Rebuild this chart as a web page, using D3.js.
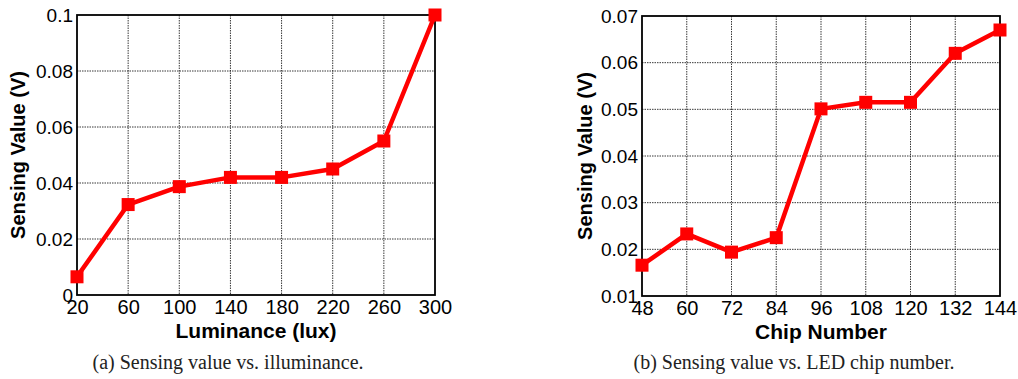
<!DOCTYPE html>
<html>
<head>
<meta charset="utf-8">
<script src="https://cdn.jsdelivr.net/npm/d3@7"></script>
<style>
  body { margin: 0; background: #fff; }
  svg { display: block; }
</style>
</head>
<body>
<svg id="chart" width="1018" height="379"></svg>
<script>
// panel (a)
var luxValues = [20, 60, 100, 140, 180, 220, 260, 300];
var luxSensing = [0.0065, 0.0323, 0.0387, 0.0420, 0.0420, 0.0450, 0.0550, 0.1000];
var luxYTicks = [0, 0.02, 0.04, 0.06, 0.08, 0.1];

// panel (b)
var chipValues = [48, 60, 72, 84, 96, 108, 120, 132, 144];
var chipSensing = [0.0166, 0.0233, 0.0194, 0.0225, 0.0501, 0.0515, 0.0515, 0.0620, 0.0670];
var chipYTicks = [0.01, 0.02, 0.03, 0.04, 0.05, 0.06, 0.07];

var svg = d3.select("#chart");

function panel(cfg) {
  var x = d3.scaleLinear().domain(cfg.xDomain).range([cfg.left, cfg.right]);
  var y = d3.scaleLinear().domain(cfg.yDomain).range([cfg.bottom, cfg.top]);
  var g = svg.append("g");

  // grid
  g.append("g").selectAll("line.vx")
    .data(cfg.xTicks.slice(1, -1))
    .enter().append("line")
      .attr("x1", d => x(d)).attr("x2", d => x(d))
      .attr("y1", cfg.top).attr("y2", cfg.bottom)
      .attr("stroke", "#222").attr("stroke-width", 0.9)
      .attr("stroke-dasharray", "1.5,1");
  g.append("g").selectAll("line.hy")
    .data(cfg.yTicks.slice(1, -1))
    .enter().append("line")
      .attr("x1", cfg.left).attr("x2", cfg.right)
      .attr("y1", d => y(d)).attr("y2", d => y(d))
      .attr("stroke", "#222").attr("stroke-width", 0.9)
      .attr("stroke-dasharray", "1.5,1");

  // axes
  var xa = g.append("g")
    .attr("transform", "translate(0," + cfg.bottom + ")")
    .call(d3.axisBottom(x).tickValues(cfg.xTicks).tickSize(0).tickPadding(5).tickFormat(d3.format("d")));
  xa.select(".domain").remove();
  xa.selectAll("text").attr("font-family", "Liberation Sans, Arial, sans-serif")
    .attr("font-size", 20).attr("fill", "#000");

  var ya = g.append("g")
    .attr("transform", "translate(" + cfg.left + ",0)")
    .call(d3.axisLeft(y).tickValues(cfg.yTicks).tickSize(0).tickPadding(4).tickFormat(d => String(+d.toFixed(2))));
  ya.select(".domain").remove();
  ya.selectAll("text").attr("font-family", "Liberation Sans, Arial, sans-serif")
    .attr("font-size", 19).attr("fill", "#000");

  // box
  g.append("rect")
    .attr("x", cfg.left).attr("y", cfg.top)
    .attr("width", cfg.right - cfg.left).attr("height", cfg.bottom - cfg.top)
    .attr("fill", "none").attr("stroke", "#000").attr("stroke-width", 1.8);

  // line
  var pts = cfg.xs.map((d, i) => [d, cfg.ys[i]]);
  g.append("path")
    .datum(pts)
    .attr("d", d3.line().x(d => x(d[0])).y(d => y(d[1])))
    .attr("fill", "none").attr("stroke", "#ff0000")
    .attr("stroke-width", 4.5).attr("stroke-linejoin", "round");
  g.selectAll("rect.mk")
    .data(pts)
    .enter().append("rect")
      .attr("x", d => x(d[0]) - 6.5).attr("y", d => y(d[1]) - 6.5)
      .attr("width", 13).attr("height", 13)
      .attr("fill", "#ff0000");

  // labels
  g.append("text")
    .attr("x", (cfg.left + cfg.right) / 2).attr("y", cfg.bottom + 43)
    .attr("text-anchor", "middle")
    .attr("font-family", "Liberation Sans, Arial, sans-serif")
    .attr("font-weight", "bold").attr("font-size", 21)
    .text(cfg.xLabel);
  g.append("text")
    .attr("transform", "translate(" + cfg.yLabelX + "," + ((cfg.top + cfg.bottom) / 2) + ") rotate(-90)")
    .attr("text-anchor", "middle")
    .attr("font-family", "Liberation Sans, Arial, sans-serif")
    .attr("font-weight", "bold").attr("font-size", 20)
    .text(cfg.yLabel);
  g.append("text")
    .attr("x", cfg.captionX).attr("y", 369)
    .attr("text-anchor", "middle")
    .attr("font-family", "Liberation Serif, serif")
    .attr("font-size", 20).attr("fill", "#222")
    .text(cfg.caption);
}

panel({
  left: 77, right: 435, top: 15, bottom: 295,
  xDomain: [20, 300], yDomain: [0, 0.1],
  xTicks: luxValues, yTicks: luxYTicks,
  xs: luxValues, ys: luxSensing,
  xLabel: "Luminance (lux)", yLabel: "Sensing Value (V)",
  yLabelX: 25, captionX: 228,
  caption: "(a) Sensing value vs. illuminance."
});

panel({
  left: 642, right: 1000, top: 16, bottom: 296,
  xDomain: [48, 144], yDomain: [0.01, 0.07],
  xTicks: chipValues, yTicks: chipYTicks,
  xs: chipValues, ys: chipSensing,
  xLabel: "Chip Number", yLabel: "Sensing Value (V)",
  yLabelX: 592, captionX: 794,
  caption: "(b) Sensing value vs. LED chip number."
});
</script>
</body>
</html>
